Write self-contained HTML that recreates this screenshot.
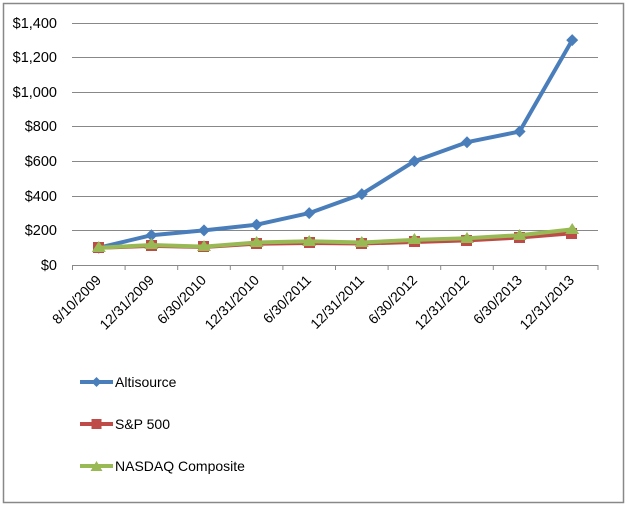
<!DOCTYPE html>
<html><head><meta charset="utf-8"><style>
html,body{margin:0;padding:0;background:#fff;}
svg{display:block;}
text{font-family:"Liberation Sans",sans-serif;font-size:14px;fill:#000;}
.y{font-size:14.5px;}
</style></head><body>
<svg width="628" height="508" viewBox="0 0 628 508">
<rect x="3.5" y="3.5" width="620" height="499" fill="#fff" stroke="#888" stroke-width="1.5"/>
<g stroke="#888" stroke-width="1">
<line x1="72" y1="23.5" x2="598" y2="23.5"/>
<line x1="72" y1="57.5" x2="598" y2="57.5"/>
<line x1="72" y1="92.5" x2="598" y2="92.5"/>
<line x1="72" y1="126.5" x2="598" y2="126.5"/>
<line x1="72" y1="161.5" x2="598" y2="161.5"/>
<line x1="72" y1="196.5" x2="598" y2="196.5"/>
<line x1="72" y1="230.5" x2="598" y2="230.5"/>
<line x1="72" y1="265.5" x2="598" y2="265.5"/>
<line x1="72.5" y1="265" x2="72.5" y2="270"/><line x1="125.1" y1="265" x2="125.1" y2="270"/><line x1="177.7" y1="265" x2="177.7" y2="270"/><line x1="230.3" y1="265" x2="230.3" y2="270"/><line x1="282.9" y1="265" x2="282.9" y2="270"/><line x1="335.5" y1="265" x2="335.5" y2="270"/><line x1="388.1" y1="265" x2="388.1" y2="270"/><line x1="440.7" y1="265" x2="440.7" y2="270"/><line x1="493.3" y1="265" x2="493.3" y2="270"/><line x1="545.9" y1="265" x2="545.9" y2="270"/><line x1="598" y1="265" x2="598" y2="270"/>
</g>
<g text-anchor="end" class="y">
<text class="y" x="57" y="28">$1,400</text><text class="y" x="57" y="62">$1,200</text><text class="y" x="57" y="97">$1,000</text><text class="y" x="57" y="131">$800</text><text class="y" x="57" y="166">$600</text><text class="y" x="57" y="201">$400</text><text class="y" x="57" y="235">$200</text><text class="y" x="57" y="270">$0</text>
</g>
<g text-anchor="end">
<text transform="translate(102,281) rotate(-45)">8/10/2009</text>
<text transform="translate(155,281) rotate(-45)">12/31/2009</text>
<text transform="translate(207,281) rotate(-45)">6/30/2010</text>
<text transform="translate(260,281) rotate(-45)">12/31/2010</text>
<text transform="translate(312,281) rotate(-45)">6/30/2011</text>
<text transform="translate(365,281) rotate(-45)">12/31/2011</text>
<text transform="translate(418,281) rotate(-45)">6/30/2012</text>
<text transform="translate(470,281) rotate(-45)">12/31/2012</text>
<text transform="translate(523,281) rotate(-45)">6/30/2013</text>
<text transform="translate(575,281) rotate(-45)">12/31/2013</text>
</g>
<polyline fill="none" stroke="#4a7ebb" stroke-width="4" stroke-linejoin="round" points="98.8,247.7 151.4,235.2 204,230.4 256.6,224.7 309.2,213.1 361.8,194.1 414.4,161.2 467,142.2 519.6,131.5 572.2,40.1"/>
<g fill="#4a7ebb">
<path d="M98.8,241.7l6,6-6,6-6-6z"/><path d="M151.4,229.2l6,6-6,6-6-6z"/><path d="M204,224.4l6,6-6,6-6-6z"/><path d="M256.6,218.7l6,6-6,6-6-6z"/><path d="M309.2,207.1l6,6-6,6-6-6z"/><path d="M361.8,188.1l6,6-6,6-6-6z"/><path d="M414.4,155.2l6,6-6,6-6-6z"/><path d="M467,136.2l6,6-6,6-6-6z"/><path d="M519.6,125.5l6,6-6,6-6-6z"/><path d="M572.2,34.1l6,6-6,6-6-6z"/>
</g>
<polyline fill="none" stroke="#be4b48" stroke-width="4" points="98.8,247.7 151.4,245.9 204,247 256.6,243.7 309.2,243 361.8,243.5 414.4,242 467,240.4 519.6,237.5 572.2,233.2"/>
<g fill="#be4b48">
<rect x="93" y="242" width="11" height="11"/><rect x="146" y="240" width="11" height="11"/><rect x="198" y="241" width="11" height="11"/><rect x="251" y="238" width="11" height="11"/><rect x="304" y="237" width="11" height="11"/><rect x="356" y="238" width="11" height="11"/><rect x="409" y="236" width="11" height="11"/><rect x="461" y="235" width="11" height="11"/><rect x="514" y="232" width="11" height="11"/><rect x="566" y="228" width="11" height="11"/>
</g>
<polyline fill="none" stroke="#98b954" stroke-width="4" points="98.8,247.7 151.4,245 204,246.6 256.6,242.5 309.2,241.3 361.8,242.5 414.4,239.9 467,238.2 519.6,235.2 572.2,229.4"/>
<g fill="#98b954">
<path d="M98.8,241l7,11h-14z"/><path d="M151.4,238l7,11h-14z"/><path d="M204,240l7,11h-14z"/><path d="M256.6,236l7,11h-14z"/><path d="M309.2,235l7,11h-14z"/><path d="M361.8,236l7,11h-14z"/><path d="M414.4,233l7,11h-14z"/><path d="M467,232l7,11h-14z"/><path d="M519.6,229l7,11h-14z"/><path d="M572.2,223l7,11h-14z"/>
</g>
<line x1="80" y1="382" x2="113" y2="382" stroke="#4a7ebb" stroke-width="4"/>
<path d="M96.5,377l5,5-5,5-5-5z" fill="#4a7ebb"/>
<text x="115" y="387">Altisource</text>
<line x1="80" y1="424" x2="113" y2="424" stroke="#be4b48" stroke-width="4"/>
<rect x="91.5" y="419" width="10" height="10" fill="#be4b48"/>
<text x="115" y="429">S&amp;P 500</text>
<line x1="80" y1="466" x2="113" y2="466" stroke="#98b954" stroke-width="4"/>
<path d="M96.5,461l6,10h-12z" fill="#98b954"/>
<text x="115" y="471">NASDAQ Composite</text>
</svg>
</body></html>
